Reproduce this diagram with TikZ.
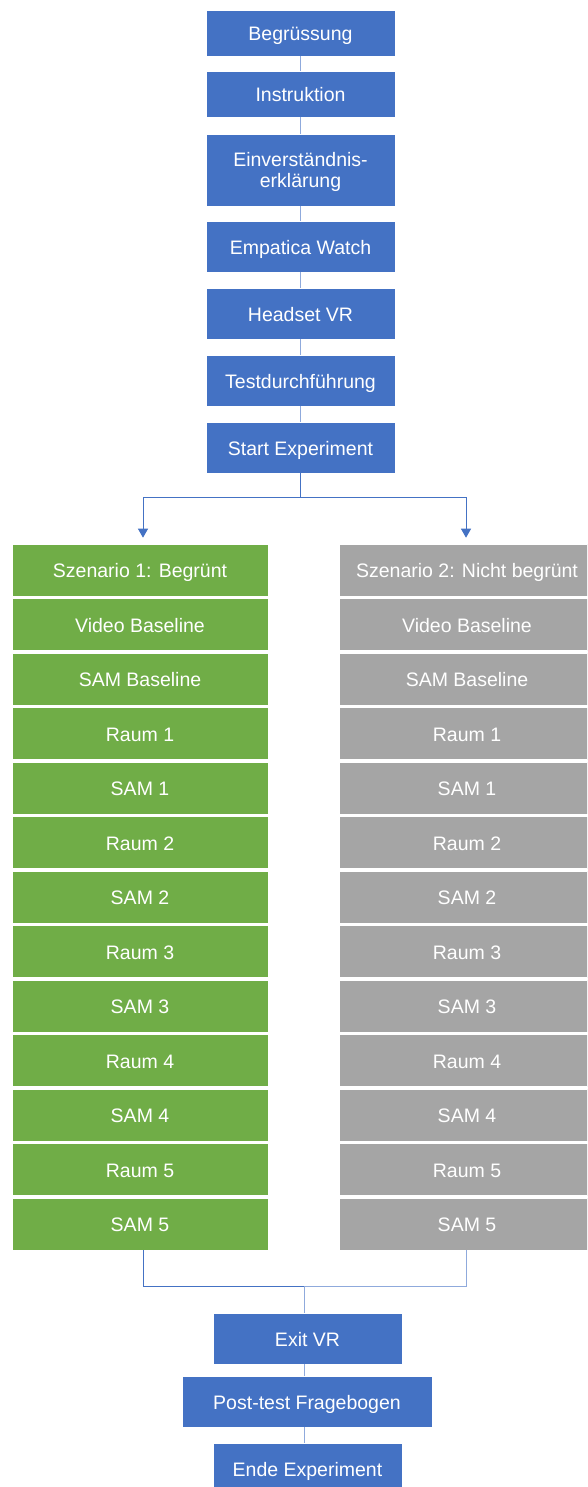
\documentclass[tikz,border=0pt]{standalone}
\usepackage{fontspec}
\setmainfont{Liberation Sans}
\usetikzlibrary{arrows.meta}
\definecolor{bl}{HTML}{4472C4}
\definecolor{gr}{HTML}{70AD47}
\definecolor{gy}{HTML}{A5A5A5}
\definecolor{lk}{HTML}{8FAADC}
\begin{document}
\begin{tikzpicture}[x=1pt,y=-1pt,
  box/.style={draw=white, line width=0.6pt, inner sep=0pt, text=white,
    font=\fontsize{19.5}{21.5}\selectfont, align=center,
    text height=15.4pt, text depth=0pt},
  bluebox/.style={box, fill=bl, minimum width=189pt, minimum height=51pt},
  greenbox/.style={box, fill=gr, minimum width=256pt, minimum height=52pt},
  graybox/.style={box, fill=gy, minimum width=256pt, minimum height=52pt},
  link/.style={draw=lk, line width=1pt},
  branch/.style={draw=bl, line width=1pt},
  arr/.style={branch, -{Triangle[width=10pt,length=9pt]}}
]
\useasboundingbox (0,0) rectangle (587,1487);
\clip (0,0) rectangle (587,1487);
\fill[white] (0,0) rectangle (587,1487);

% top column
\node[bluebox, minimum height=46pt] (b1) at (300.5,33) {Begrüssung};
\node[bluebox, minimum height=46pt] (b2) at (300.5,94) {Instruktion};
\node[bluebox, minimum height=72pt, text height=36pt, text depth=0pt] (b3) at (300.5,170) {Einverständnis-\\erklärung};
\node[bluebox] (b4) at (300.5,246.5) {Empatica Watch};
\node[bluebox] (b5) at (300.5,313.5) {Headset VR};
\node[bluebox] (b6) at (300.5,380.5) {Testdurchführung};
\node[bluebox] (b7) at (300.5,447.5) {Start Experiment};

\foreach \a/\b in {b1/b2,b2/b3,b3/b4,b4/b5,b5/b6,b6/b7}
  \draw[link] (\a.south) -- (\b.north);

% scenario columns
\foreach \t [count=\i from 0] in {Szenario 1: Begrünt, Video Baseline, SAM Baseline,
  Raum 1, SAM 1, Raum 2, SAM 2, Raum 3, SAM 3, Raum 4, SAM 4, Raum 5, SAM 5}
  \node[greenbox] (g\i) at (140,570+54.5*\i) {\t};
\foreach \t [count=\i from 0] in {Szenario 2: Nicht begrünt, Video Baseline, SAM Baseline,
  Raum 1, SAM 1, Raum 2, SAM 2, Raum 3, SAM 3, Raum 4, SAM 4, Raum 5, SAM 5}
  \node[graybox] (r\i) at (467,570+54.5*\i) {\t};

% branch
\coordinate (split) at (300.5,497);
\coordinate (gl) at (143,497);
\coordinate (gr) at (466,497);
\draw[branch] (b7.south) -- (split);
\draw[branch] (gl) -- (gr);
\draw[arr] (gl) -- ([yshift=6pt]g0.north -| gl);
\draw[arr] (gr) -- ([yshift=6pt]r0.north -| gr);

% bottom column
\node[bluebox] (e1) at (307.5,1338.5) {Exit VR};
\node[bluebox, minimum width=250pt] (e2) at (307,1401.5) {Post-test Fragebogen};
\node[bluebox] (e3) at (307.5,1468.5) {Ende Experiment};

% merge
\coordinate (ml) at (143,1286);
\coordinate (mr) at (466,1286);
\coordinate (mc) at (304,1286);
\draw[branch] (g12.south -| ml) -- (ml) -- (mc);
\draw[link] (mc) -- (mr) -- (r12.south -| mr);
\draw[link] (mc) -- (e1.north -| mc);
\draw[link] (e1.south -| mc) -- (e2.north -| mc);
\draw[link] (e2.south -| mc) -- (e3.north -| mc);
\end{tikzpicture}
\end{document}
